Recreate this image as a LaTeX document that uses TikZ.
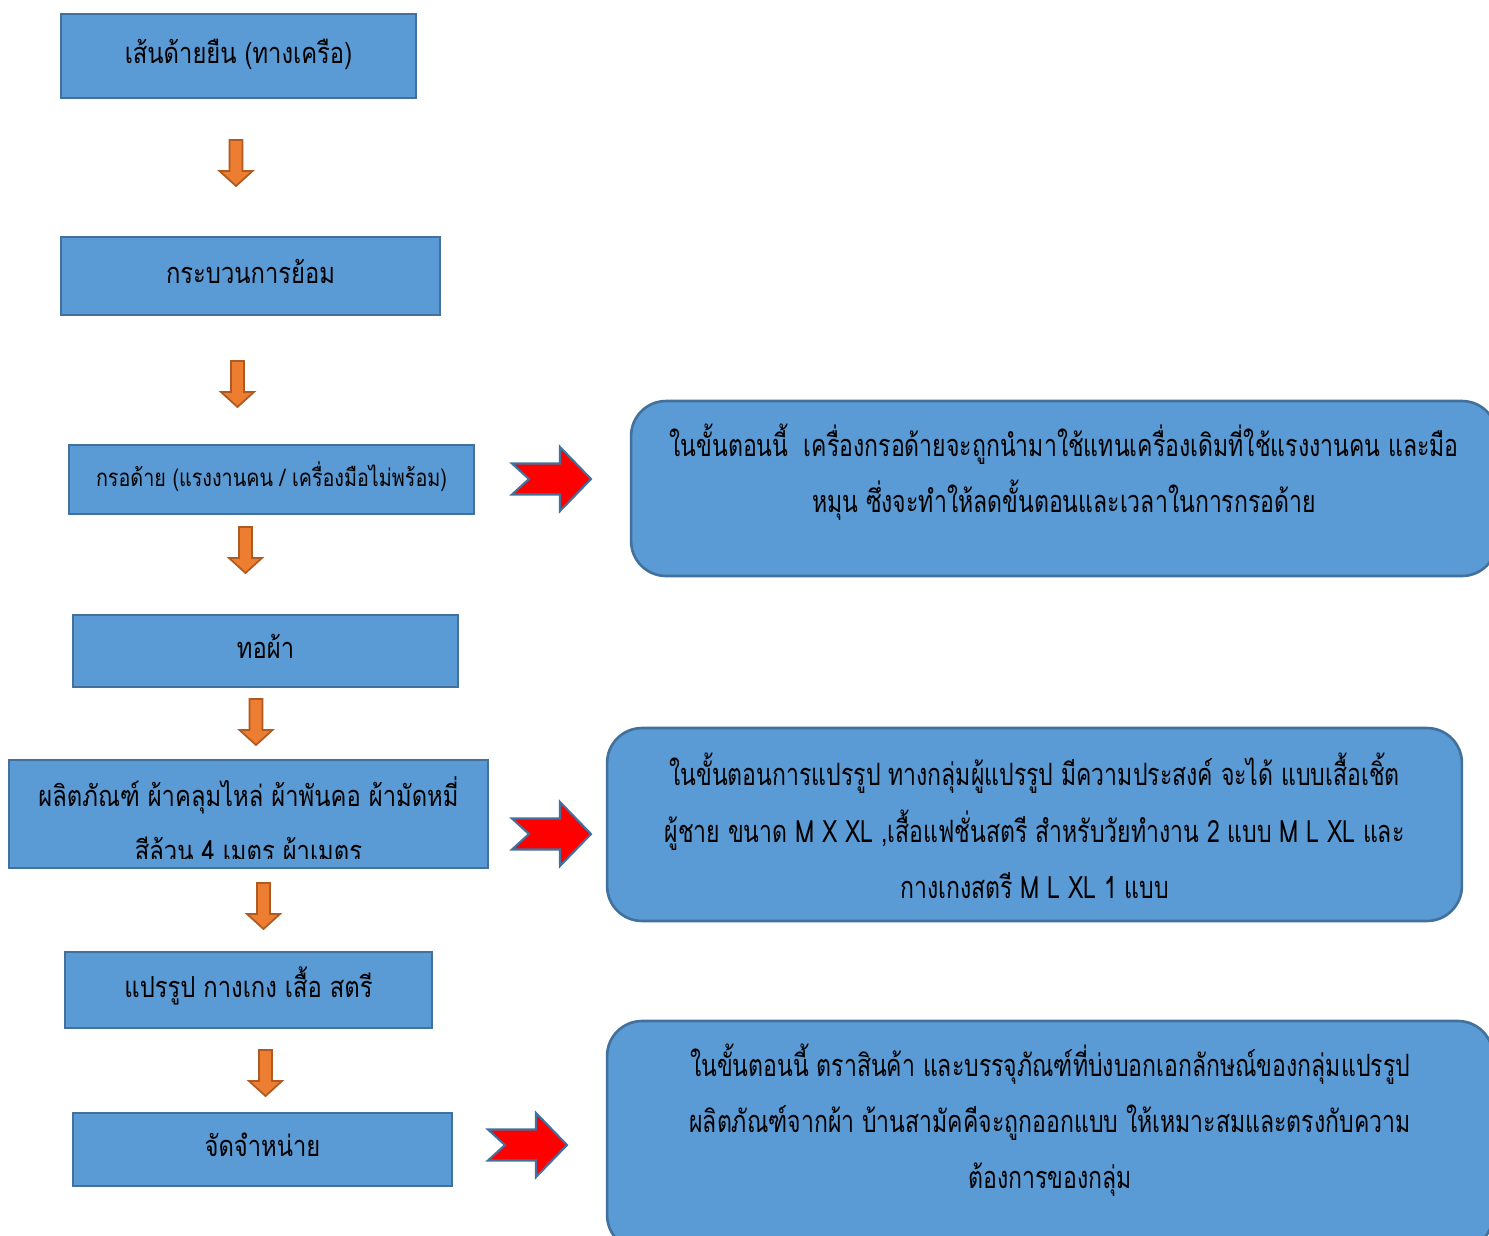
\documentclass[tikz,border=0pt]{standalone}
\usepackage{fontspec}
\newfontfamily\thaifont[Script=Thai,FakeStretch=0.82]{Loma}
\newfontfamily\thainarrow[Script=Thai,FakeStretch=0.75]{Loma}
\definecolor{boxblue}{HTML}{5B9BD5}
\definecolor{boxline}{HTML}{41719C}
\definecolor{arrorange}{HTML}{ED7D31}
\definecolor{arrline}{HTML}{AE5A21}
\def\s{0.02}
\def\px#1#2{({(#1)*\s},{-(#2)*\s})}

\begin{document}
\begin{tikzpicture}[
  stepbox/.style={draw=boxline,fill=boxblue,line width=1.5pt,inner sep=0pt,
    text height=12pt,text depth=4pt,font=\thaifont\fontsize{16.5}{31}\selectfont},
  notebox/.style={draw=boxline,fill=boxblue,line width=1.5pt,rounded corners=0.7cm},
  notetext/.style={align=center,font=\thainarrow\fontsize{17.5}{32}\selectfont},
  downarr/.style={draw=arrline,fill=arrorange,line width=1pt},
  rightarr/.style={draw=boxline,fill=red,line width=1.2pt,line join=miter}]
\useasboundingbox \px{0}{0} rectangle \px{1489}{1235};
\clip \px{0}{0} rectangle \px{1489}{1235};

% left column
\node[stepbox,minimum width=7.1cm,minimum height=1.68cm] (warp) at \px{238.5}{56} {เส้นด้ายยืน (ทางเครือ)};
\node[stepbox,minimum width=7.58cm,minimum height=1.56cm] (dye) at \px{250.5}{276} {กระบวนการย้อม};
\node[stepbox,minimum width=8.1cm,minimum height=1.38cm,font=\thaifont\fontsize{13.7}{20}\selectfont] (reel) at \px{271.5}{479.5} {กรอด้าย (แรงงานคน / เครื่องมือไม่พร้อม)};
\node[stepbox,minimum width=7.7cm,minimum height=1.44cm] (weave) at \px{265.5}{651} {ทอผ้า};
\node[stepbox,minimum width=9.58cm,minimum height=2.16cm] (goods) at \px{248.5}{814} {};
\begin{scope}
\clip \px{9}{760} rectangle \px{488}{858};
\node[align=center,font=\thaifont\fontsize{16.5}{31}\selectfont] (goodstext) at \px{248.5}{819} {ผลิตภัณฑ์ ผ้าคลุมไหล่ ผ้าพันคอ ผ้ามัดหมี่\\สีล้วน 4 เมตร ผ้าเมตร};
\end{scope}
\node[stepbox,minimum width=7.34cm,minimum height=1.52cm] (tailor) at \px{248.5}{990} {แปรรูป กางเกง เสื้อ สตรี};
\node[stepbox,minimum width=7.58cm,minimum height=1.46cm] (sell) at \px{262.5}{1149.5} {จัดจำหน่าย};

% orange arrows between the steps
\foreach \x/\y in {236/140,237.5/361,245.5/527,256/699,263.5/883,265.5/1050}{
  \draw[downarr] \px{\x-6.5}{\y} -- \px{\x+6.5}{\y} -- \px{\x+6.5}{\y+31} -- \px{\x+16.5}{\y+31}
    -- \px{\x}{\y+46} -- \px{\x-16.5}{\y+31} -- \px{\x-6.5}{\y+31} -- cycle;
}

% notes on the right
\node[notebox,minimum width=17.32cm,minimum height=3.5cm] (note1) at \px{1064}{488.5} {};
\node[notetext] (note1text) at \px{1064}{472} {ในขั้นตอนนี้ \ เครื่องกรอด้ายจะถูกนำมาใช้แทนเครื่องเดิมที่ใช้แรงงานคน และมือ\\หมุน ซึ่งจะทำให้ลดขั้นตอนและเวลาในการกรอด้าย};
\node[notebox,minimum width=17.1cm,minimum height=3.86cm] (note2) at \px{1034.5}{824.5} {};
\node[notetext] (note2text) at \px{1034.5}{826} {ในขั้นตอนการแปรรูป ทางกลุ่มผู้แปรรูป มีความประสงค์ จะได้ แบบเสื้อเชิ้ต\\ผู้ชาย ขนาด M X XL ,เสื้อแฟชั่นสตรี สำหรับวัยทำงาน 2 แบบ M L XL และ\\กางเกงสตรี M L XL 1 แบบ};
\node[notebox,minimum width=17.72cm,minimum height=4.58cm] (note3) at \px{1050}{1135.5} {};
\node[notetext] (note3text) at \px{1050}{1120} {ในขั้นตอนนี้ ตราสินค้า และบรรจุภัณฑ์ที่บ่งบอกเอกลักษณ์ของกลุ่มแปรรูป\\ผลิตภัณฑ์จากผ้า บ้านสามัคคีจะถูกออกแบบ ให้เหมาะสมและตรงกับความ\\ต้องการของกลุ่ม};

% red arrows to the notes
\foreach \x/\y in {512/479,512/834,488/1145}{
  \draw[rightarr] \px{\x}{\y-15.5} -- \px{\x+48}{\y-15.5} -- \px{\x+48}{\y-32} -- \px{\x+79}{\y}
    -- \px{\x+48}{\y+32} -- \px{\x+48}{\y+15.5} -- \px{\x}{\y+15.5} -- \px{\x+17}{\y} -- cycle;
}
\end{tikzpicture}
\end{document}
